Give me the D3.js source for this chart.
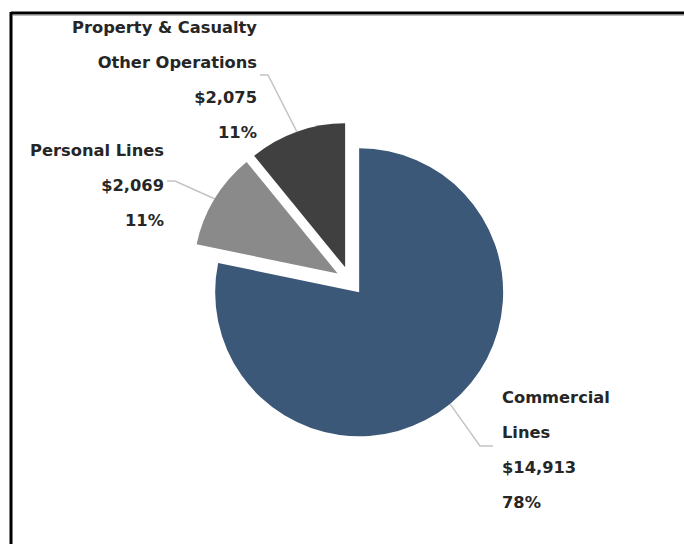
<!DOCTYPE html>
<html>
<head>
<meta charset="utf-8">
<script src="https://cdn.jsdelivr.net/npm/d3@7"></script>
<style>
  html, body { margin: 0; padding: 0; background: #fff; }
  svg { display: block; }
</style>
</head>
<body>
<svg id="chart" width="684" height="544"></svg>
<script>
// ---- data ----
const categories = ["Commercial Lines", "Personal Lines", "Property & Casualty Other Operations"];
const labelLines = [["Commercial", "Lines"], ["Personal Lines"], ["Property & Casualty", "Other Operations"]];
const values = [14913, 2069, 2075];
const valueLabels = ["$14,913", "$2,069", "$2,075"];
const percentLabels = ["78%", "11%", "11%"];
const colors = ["#3b5878", "#8a8a8a", "#404040"];

// ---- layout ----
const W = 684, H = 544;
const cx = 350, cy = 281, radius = 144;
const explode = [14.5, 14.5, 14.5];
// label layout per slice: x anchor, first baseline, side (+1 right / -1 left), leader y offset from first baseline
const labelLayout = [
  { x: 502, y: 403, side: 1, leaderDy: 43 },
  { x: 164, y: 156, side: -1, leaderDy: 25 },
  { x: 257, y: 33, side: -1, leaderDy: 42 }
];
const lineGap = 35;

const svg = d3.select("#chart");

// border (top & left)
svg.append("line").attr("x1", 11).attr("x2", W).attr("y1", 13).attr("y2", 13)
  .attr("stroke", "#000").attr("stroke-width", 3);
svg.append("line").attr("x1", 11).attr("x2", 11).attr("y1", 12).attr("y2", H)
  .attr("stroke", "#000").attr("stroke-width", 3);
svg.append("line").attr("x1", 13).attr("x2", W).attr("y1", 15.5).attr("y2", 15.5)
  .attr("stroke", "#bbb").attr("stroke-width", 1);

const pie = d3.pie().sort(null).value(d => d);
const arcs = pie(values);
const arc = d3.arc().innerRadius(0).outerRadius(radius);

const g = svg.append("g").attr("transform", `translate(${cx},${cy})`);

function offset(d, i) {
  const mid = (d.startAngle + d.endAngle) / 2;
  return [Math.sin(mid) * explode[i], -Math.cos(mid) * explode[i]];
}

g.selectAll("path.slice").data(arcs).join("path")
  .attr("class", "slice")
  .attr("d", arc)
  .attr("fill", (d, i) => colors[i])
  .attr("transform", (d, i) => { const o = offset(d, i); return `translate(${o[0]},${o[1]})`; });

// leader lines
arcs.forEach((d, i) => {
  const mid = (d.startAngle + d.endAngle) / 2;
  const o = offset(d, i);
  const sx = cx + o[0] + Math.sin(mid) * radius;
  const sy = cy + o[1] - Math.cos(mid) * radius;
  const L = labelLayout[i];
  const ly = L.y + L.leaderDy;
  const ex = L.side > 0 ? L.x - 9 : L.x + 3;
  const bx = L.side > 0 ? L.x - 22 : L.x + 11;
  svg.append("polyline")
    .attr("points", [[sx, sy], [bx, ly], [ex, ly]].map(p => p.join(",")).join(" "))
    .attr("fill", "none")
    .attr("stroke", "#c4c4c4")
    .attr("stroke-width", 1.5);
});

// labels
arcs.forEach((d, i) => {
  const L = labelLayout[i];
  const lines = labelLines[i].concat([valueLabels[i], percentLabels[i]]);
  const t = svg.append("text")
    .attr("font-family", "'DejaVu Sans', sans-serif")
    .attr("font-weight", "bold")
    .attr("font-size", 16.3)
    .attr("fill", "#262626")
    .attr("text-anchor", L.side > 0 ? "start" : "end");
  lines.forEach((s, k) => {
    t.append("tspan").attr("x", L.x).attr("y", L.y + k * lineGap).text(s);
  });
});
</script>
</body>
</html>
